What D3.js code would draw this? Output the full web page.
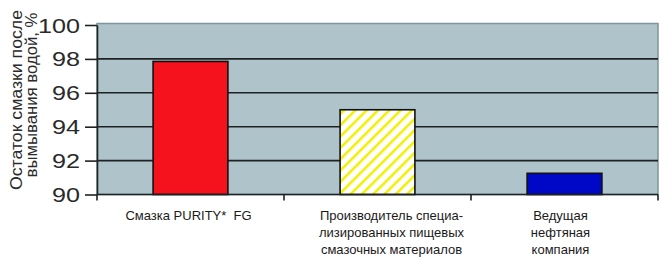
<!DOCTYPE html>
<html>
<head>
<meta charset="utf-8">
<script src="https://cdn.jsdelivr.net/npm/d3@7"></script>
<style>
  body { margin: 0; background: #fff; }
  svg { display: block; font-family: Arial, "Liberation Sans", sans-serif; }
</style>
</head>
<body>
<svg width="660" height="257"></svg>
<script>
const categories = ["purity", "specialist", "oil"];
const categoryLabels = [
  ["Смазка PURITY*  FG"],
  ["Производитель специа-", "лизированных пищевых", "смазочных материалов"],
  ["Ведущая", "нефтяная", "компания"]
];
const values = [97.85, 95.0, 91.25];
const yTicks = [90, 92, 94, 96, 98, 100];
const yTitle = ["Остаток смазки после", "вымывания водой, %"];

const width = 660;
const height = 257;
const plotLeft = 97, plotRight = 658, plotTop = 25, plotBottom = 194.5;

const svg = d3.select("svg");

const xScale = d3.scaleBand()
  .domain(categories)
  .range([plotLeft, plotRight])
  .paddingInner(0.6)
  .paddingOuter(0.3);

const yScale = d3.scaleLinear()
  .domain([90, 100])
  .range([plotBottom, plotTop]);

// hatch pattern for the middle bar
const defs = svg.append("defs");
const hatch = defs.append("pattern")
    .attr("id", "hatch")
    .attr("patternUnits", "userSpaceOnUse")
    .attr("width", 8)
    .attr("height", 8)
    .attr("patternTransform", "rotate(45)");
hatch.append("rect")
    .attr("width", 8).attr("height", 8).attr("fill", "#fff");
hatch.append("rect")
    .attr("width", 2.5).attr("height", 8).attr("fill", "#f2f000");

// plot background
svg.append("rect")
    .attr("x", plotLeft)
    .attr("y", plotTop - 1.5)
    .attr("width", plotRight - plotLeft)
    .attr("height", plotBottom - plotTop + 1.5)
    .attr("fill", "#afc3cb")
    .attr("stroke", "#7d959c")
    .attr("stroke-width", 1.5);

// gridlines
svg.append("g")
  .selectAll("line")
  .data(yTicks.filter(d => d > 90 && d < 100))
  .enter()
  .append("line")
    .attr("x1", plotLeft)
    .attr("x2", plotRight)
    .attr("y1", d => yScale(d))
    .attr("y2", d => yScale(d))
    .attr("stroke", "#1e2224")
    .attr("stroke-width", 1.6);

// bars
const fills = ["#f5121c", "url(#hatch)", "#0008c8"];
svg.append("g")
  .selectAll("rect")
  .data(values)
  .enter()
  .append("rect")
    .attr("x", (d, i) => xScale(categories[i]))
    .attr("y", d => yScale(d))
    .attr("width", xScale.bandwidth())
    .attr("height", d => yScale(90) - yScale(d))
    .attr("fill", (d, i) => fills[i])
    .attr("stroke", "#111")
    .attr("stroke-width", 1.6);

// y axis
const yAxis = d3.axisLeft(yScale)
  .tickValues(yTicks)
  .tickSize(12)
  .tickPadding(5)
  .tickSizeOuter(0);

const yg = svg.append("g")
    .attr("transform", `translate(${plotLeft}, 0)`)
    .call(yAxis);
yg.select(".domain").attr("stroke", "#1e2224").attr("stroke-width", 1.6);
yg.selectAll(".tick line").attr("stroke", "#1e2224").attr("stroke-width", 1.6);
yg.selectAll(".tick text")
    .attr("fill", "#2a2a2a")
    .style("font-size", "19.5px")
    .attr("dy", "0.36em")
    .attr("textLength", d => String(d).length * 14)
    .attr("lengthAdjust", "spacingAndGlyphs");

// x axis line and category separators
const step = xScale.step();
svg.append("line")
    .attr("x1", plotLeft).attr("x2", plotRight)
    .attr("y1", plotBottom).attr("y2", plotBottom)
    .attr("stroke", "#1e2224")
    .attr("stroke-width", 1.6);

const boundaries = [plotLeft].concat(categories.map(c => xScale(c) + xScale.bandwidth() / 2 + step / 2));
svg.append("g")
  .selectAll("line")
  .data(boundaries)
  .enter()
  .append("line")
    .attr("x1", d => d).attr("x2", d => d)
    .attr("y1", plotBottom).attr("y2", plotBottom + 6)
    .attr("stroke", "#1e2224")
    .attr("stroke-width", 1.6);

// category labels (wrapped text boxes sit a little off the bar centres)
const labelShift = [-2, 14, -4];
svg.append("g")
  .selectAll("text")
  .data(categories)
  .enter()
  .append("text")
    .attr("x", (d, i) => xScale(d) + xScale.bandwidth() / 2 + labelShift[i])
    .attr("y", 220)
    .style("text-anchor", "middle")
    .style("font-size", "13px")
    .style("white-space", "pre")
    .attr("fill", "#1a1a1a")
  .selectAll("tspan")
  .data((d, i) => categoryLabels[i])
  .enter()
  .append("tspan")
    .attr("x", function () { return d3.select(this.parentNode).attr("x"); })
    .attr("dy", (d, i) => i === 0 ? 0 : 16.8)
    .text(d => d);

// y title, two rotated lines
const titleCenter = [100, 95];
const titleLength = [180, 165];
svg.append("g")
  .selectAll("text")
  .data(yTitle)
  .enter()
  .append("text")
    .attr("transform", "rotate(-90)")
    .attr("x", (d, i) => -titleCenter[i])
    .attr("y", (d, i) => 22 + i * 15)
    .style("text-anchor", "middle")
    .style("font-size", "16px")
    .attr("fill", "#2a2a2a")
    .attr("textLength", (d, i) => titleLength[i])
    .attr("lengthAdjust", "spacingAndGlyphs")
    .text(d => d);
</script>
</body>
</html>
